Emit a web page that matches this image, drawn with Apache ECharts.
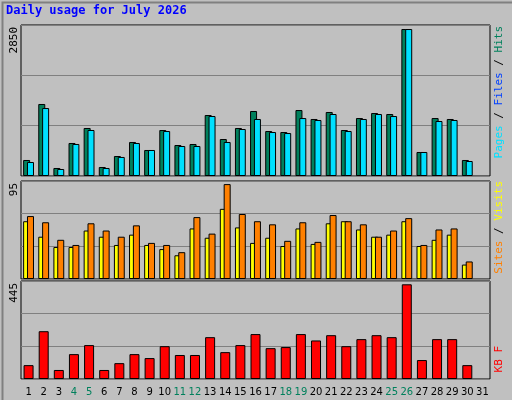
<!DOCTYPE html>
<html><head><meta charset="utf-8">
<script src="https://cdn.jsdelivr.net/npm/echarts@6/dist/echarts.min.js"></script>
<style>html,body{margin:0;padding:0;background:#c0c0c0}#c{width:512px;height:400px}</style>
</head><body><div id="c"></div>
<script>
const days = ['1','2','3','4','5','6','7','8','9','10','11','12','13','14','15','16','17','18','19','20','21','22','23','24','25','26','27','28','29','30','31'];
const weekend = ['4','5','11','12','18','19','25','26'];
const hits = [302,1359,151,623,906,170,377,642,491,868,585,604,1151,698,906,1227,849,830,1245,1076,1208,868,1094,1189,1170,2774,453,1094,1076,302,null];
const files = [264,1283,132,604,868,151,359,623,491,849,566,566,1132,642,887,1076,830,811,1094,1057,1170,849,1076,1170,1132,2774,453,1038,1057,283,null];
const sites = [56,41,31,31,47,41,33,43,33,29,23,49,40,68,50,35,40,32,49,34,54,56,48,41,43,56,32,38,43,14,null];
const visits = [61,55,38,33,54,47,41,52,35,33,26,60,44,92,63,56,53,37,55,36,62,56,53,41,47,59,33,48,49,17,null];
const kbytes = [63,217,41,113,154,41,72,113,95,149,109,109,190,122,154,204,140,145,204,175,199,149,181,199,190,430,86,181,181,63,null];
const maxHits = 2850, maxVisits = 95, maxKB = 445;

const mono = 'DejaVu Sans Mono';
const F = '11px "DejaVu Sans Mono"';
const grids = [
  {left:21,top:25,width:469,height:151},
  {left:21,top:181,width:469,height:98},
  {left:21,top:281,width:469,height:98}
];
function xa(i, show){
  return {type:'category', gridIndex:i, data:days, boundaryGap:true,
    axisLine:{show:false}, axisTick:{show:false},
    axisLabel:{show:show, fontFamily:'DejaVu Sans', fontSize:10, margin:8, interval:0,
      color:(v)=> weekend.includes(v)?'#00805c':'#000'}};
}
function ya(i, max){
  return {type:'value', gridIndex:i, min:0, max:max, interval:max/3,
    axisLine:{show:false}, axisTick:{show:false},
    splitLine:{lineStyle:{color:'#808080',width:1}}, axisLabel:{show:false}};
}
function ylab(y, t){
  return {type:'text',x:9,y:y,rotation:Math.PI/2,style:{text:t,fill:'#000',font:F,align:'right',verticalAlign:'top'}};
}
const bs = {borderColor:'#000', borderWidth:1};
const chart = echarts.init(document.getElementById('c'));
chart.setOption({
  backgroundColor:'#c0c0c0', animation:false,
  grid: grids.map(g=>Object.assign({show:true, backgroundColor:'#c0c0c0', borderColor:'#000', borderWidth:1},g)),
  xAxis:[xa(0,false),xa(1,false),xa(2,true)],
  yAxis:[ya(0,maxHits),ya(1,maxVisits),ya(2,maxKB)],
  series:[
    {type:'bar',xAxisIndex:0,yAxisIndex:0,data:hits,barWidth:7,barGap:'-45%',itemStyle:Object.assign({color:'#00805c'},bs)},
    {type:'bar',xAxisIndex:0,yAxisIndex:0,data:files,barWidth:7,itemStyle:Object.assign({color:'#00e0ff'},bs)},
    {type:'bar',xAxisIndex:1,yAxisIndex:1,data:sites,barWidth:7,barGap:'-45%',itemStyle:Object.assign({color:'#ffff00'},bs)},
    {type:'bar',xAxisIndex:1,yAxisIndex:1,data:visits,barWidth:7,itemStyle:Object.assign({color:'#ff8000'},bs)},
    {type:'bar',xAxisIndex:2,yAxisIndex:2,data:kbytes,barWidth:10,itemStyle:Object.assign({color:'#ff0000'},bs)}
  ],
  graphic:[
    {type:'rect',left:0,top:0,shape:{width:511,height:399},style:{fill:'none',stroke:'#808080',lineWidth:2}},
    {type:'text',left:6,top:5,style:{text:'Daily usage for July 2026',fill:'#0000ff',font:'bold 12px "DejaVu Sans Mono"'}},
    ylab(27, String(maxHits)), ylab(183, String(maxVisits)), ylab(283, String(maxKB)),
    {type:'text',x:494,y:26,rotation:Math.PI/2,style:{
      text:'{p|Pages}{s| / }{f|Files}{s| / }{h|Hits}',align:'right',verticalAlign:'top',
      rich:{p:{fill:'#00e0ff',font:F},s:{fill:'#000',font:F},f:{fill:'#0040ff',font:F},h:{fill:'#00805c',font:F}}}},
    {type:'text',x:494,y:181,rotation:Math.PI/2,style:{
      text:'{a|Sites}{s| / }{b|Visits}',align:'right',verticalAlign:'top',
      rich:{a:{fill:'#ff8000',font:F},s:{fill:'#000',font:F},b:{fill:'#ffff00',font:F}}}},
    {type:'text',x:494,y:346,rotation:Math.PI/2,style:{
      text:'KB F',fill:'#ff0000',font:F,align:'right',verticalAlign:'top'}}
  ]
});
</script></body></html>
